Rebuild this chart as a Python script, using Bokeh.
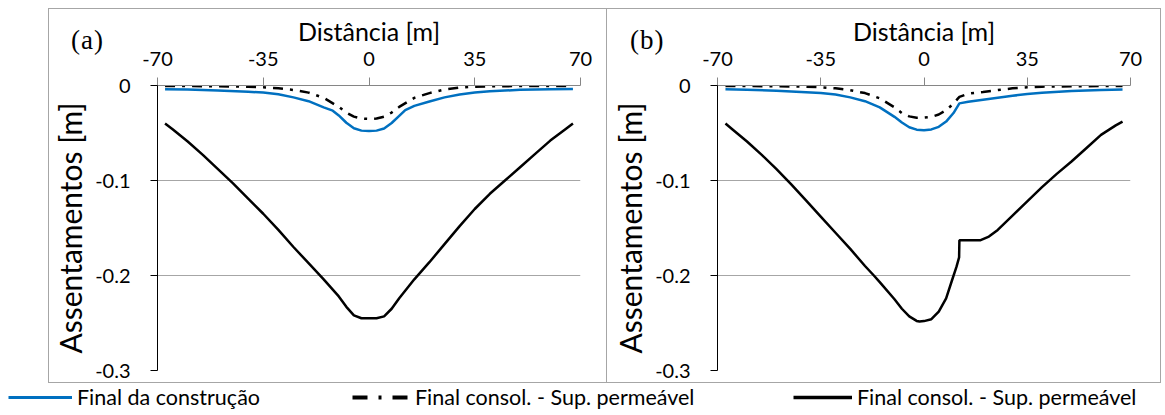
from bokeh.plotting import figure
from bokeh.layouts import row, column
from bokeh.models import (Range1d, FixedTicker, CustomJSTickFormatter, Div, GridBox,
                          Legend, LegendItem, Spacer)
from bokeh.embed import file_html
from bokeh.resources import INLINE

# ---- data: settlements along the cross-section ----
x_ticks = [-70, -35, 0, 35, 70]
y_ticks = [0, -0.1, -0.2, -0.3]

# (a) end of construction
xa_constr = [-67.5, -60, -50, -40, -35, -30, -25, -20, -15, -12, -10, -7.5, -5, -2.5, 0,
             2.5, 5, 7.5, 10, 12, 15, 20, 25, 30, 35, 40, 50, 60, 67.5]
ya_constr = [-0.0039, -0.0043, -0.0052, -0.0066, -0.0074, -0.0092, -0.0125, -0.0165, -0.0230,
             -0.0265, -0.0315, -0.0392, -0.0450, -0.0475, -0.0478, -0.0475, -0.0452, -0.0395,
             -0.0320, -0.0260, -0.0215, -0.0168, -0.0125, -0.0095, -0.0073, -0.0060, -0.0046,
             -0.0040, -0.0036]
# (a) end of consolidation, dash-dot series
xa_cons1 = [-67.5, -60, -50, -40, -35, -30, -25, -20, -15, -10, -7.5, -5, -2.5, 0,
            2.5, 5, 7.5, 10, 15, 20, 25, 30, 35, 40, 50, 60, 67.5]
ya_cons1 = [-0.0005, -0.0006, -0.0008, -0.0013, -0.0018, -0.0030, -0.0047, -0.0075, -0.0130,
            -0.0225, -0.0285, -0.0328, -0.0348, -0.0352, -0.0348, -0.0328, -0.0285, -0.0225,
            -0.0130, -0.0080, -0.0042, -0.0022, -0.0012, -0.0008, -0.0006, -0.0005, -0.0005]
# (a) end of consolidation, solid series
xa_cons2 = [-67.5, -65, -60, -55, -50, -45, -40, -35, -30, -25, -20, -15, -10, -7.5, -5,
            -2.5, 0, 2.5, 5, 7.5, 10, 15, 20, 25, 30, 35, 40, 45, 50, 55, 60, 65, 67.5]
ya_cons2 = [-0.040, -0.046, -0.059, -0.073, -0.088, -0.103, -0.119, -0.135, -0.152, -0.170,
            -0.187, -0.204, -0.222, -0.233, -0.242, -0.245, -0.245, -0.245, -0.243, -0.235,
            -0.224, -0.204, -0.186, -0.167, -0.148, -0.130, -0.114, -0.100, -0.086, -0.072,
            -0.058, -0.046, -0.040]

# (b) end of construction
xb_constr = [-67.3, -60, -50, -40, -35, -30, -25, -20, -15, -10, -7.5, -5, -2.5, 0,
             2.5, 5, 7.5, 10, 12, 15, 20, 25, 30, 35, 40, 50, 60, 67.3]
yb_constr = [-0.0039, -0.0045, -0.0055, -0.0070, -0.0080, -0.0095, -0.0125, -0.0165, -0.0230,
             -0.0330, -0.0390, -0.0440, -0.0465, -0.0470, -0.0462, -0.0435, -0.0380, -0.0290,
             -0.0188, -0.0172, -0.0150, -0.0128, -0.0108, -0.0090, -0.0076, -0.0058, -0.0047,
             -0.0042]
# (b) end of consolidation, dash-dot series
xb_cons1 = [-67.3, -60, -50, -40, -35, -30, -25, -20, -15, -10, -7.5, -5, -2.5, 0,
            2.5, 5, 7.5, 10, 12, 15, 20, 25, 30, 35, 40, 50, 60, 67.3]
yb_cons1 = [-0.0005, -0.0006, -0.0008, -0.0012, -0.0018, -0.0030, -0.0050, -0.0080, -0.0135,
            -0.0230, -0.0290, -0.0325, -0.0340, -0.0338, -0.0330, -0.0305, -0.0260, -0.0190,
            -0.0120, -0.0085, -0.0068, -0.0048, -0.0030, -0.0018, -0.0012, -0.0008, -0.0006,
            -0.0005]
# (b) end of consolidation, solid series
xb_cons2 = [-67.3, -65, -60, -55, -50, -45, -40, -35, -30, -25, -20, -17, -15, -10, -7.5,
            -5, -2.5, -1.5, 0, 2.5, 5, 7.5, 9.5, 11, 11.9, 12, 15, 19, 22, 25, 30, 35, 40,
            45, 50, 55, 60, 65, 67.3]
yb_cons2 = [-0.040, -0.046, -0.059, -0.073, -0.088, -0.104, -0.121, -0.138, -0.155, -0.172,
            -0.190, -0.200, -0.207, -0.225, -0.235, -0.243, -0.2478, -0.2485, -0.248, -0.246,
            -0.238, -0.224, -0.205, -0.191, -0.181, -0.163, -0.163, -0.163, -0.159, -0.152,
            -0.137, -0.122, -0.107, -0.093, -0.080, -0.066, -0.052, -0.042, -0.038]

legend_labels = ["Final da construção",
                 "Final consol. - Sup. permeável",
                 "Final consol. - Sup. permeável"]

FONT = "Lato"
BLUE = "#0070C0"
GRID = "#a6a6a6"
BORDER = "1px solid #a6a6a6"
DASHDOT = "10 7 3 7"


def panel(constr, cons1, cons2, width, left, right, borders):
    p = figure(width=width, height=375, x_range=Range1d(-70, 70), y_range=Range1d(-0.3, 0),
               x_axis_location="above", output_backend="svg", toolbar_location=None,
               min_border_left=left, min_border_right=right, min_border_top=76,
               min_border_bottom=14, styles=borders)
    p.outline_line_color = None

    xa = p.xaxis[0]
    xa.ticker = FixedTicker(ticks=x_ticks)
    xa.formatter = CustomJSTickFormatter(code="return tick.toFixed(0);")
    xa.axis_label = "Distância [m]"
    xa.axis_line_color = "#868686"
    xa.major_tick_line_color = "#868686"
    xa.major_tick_out = 8
    xa.major_tick_in = 0
    xa.minor_tick_line_color = None
    xa.major_label_standoff = 12
    xa.axis_label_standoff = 3
    xa.major_label_text_font = FONT
    xa.major_label_text_font_size = "20px"
    xa.axis_label_text_font = FONT
    xa.axis_label_text_font_size = "25px"
    xa.axis_label_text_font_style = "normal"
    xa.major_label_text_color = "black"
    xa.axis_label_text_color = "black"

    ya = p.yaxis[0]
    ya.ticker = FixedTicker(ticks=y_ticks)
    ya.formatter = CustomJSTickFormatter(
        code="return Math.abs(tick) < 1e-9 ? '0' : tick.toFixed(1);")
    ya.axis_label = "Assentamentos [m]"
    ya.axis_line_color = "black"
    ya.major_tick_line_color = "black"
    ya.major_tick_out = 7
    ya.major_tick_in = 0
    ya.minor_tick_line_color = None
    ya.major_label_standoff = 20
    ya.axis_label_standoff = 4
    ya.major_label_text_font = FONT
    ya.major_label_text_font_size = "20px"
    ya.axis_label_text_font = FONT
    ya.axis_label_text_font_size = "30px"
    ya.axis_label_text_font_style = "normal"
    ya.major_label_text_color = "black"
    ya.axis_label_text_color = "black"

    p.xgrid.grid_line_color = None
    p.ygrid.ticker = FixedTicker(ticks=y_ticks)
    p.ygrid.grid_line_color = GRID
    p.ygrid.grid_line_width = 1

    p.line(cons2[0], cons2[1], line_color="black", line_width=2.5)
    p.line(cons1[0], cons1[1], line_color="black", line_width=2.5, line_dash=DASHDOT)
    p.line(constr[0], constr[1], line_color=BLUE, line_width=2.5)
    return p


def tagged(p, tag, dx):
    # panel tag laid over the upper-left corner of the panel
    html = ('<div style="font-family:\'Liberation Serif\',serif;font-size:27px;'
            'line-height:27px;letter-spacing:1px;color:black;white-space:nowrap">'
            f'{tag}</div>')
    tag_div = Div(text=html, width=44, height=30, margin=(19, 0, 0, dx), align="start")
    return GridBox(children=[(p, 0, 0), (tag_div, 0, 0)])


pa = panel((xa_constr, ya_constr), (xa_cons1, ya_cons1), (xa_cons2, ya_cons2),
           559, 103, 28,
           {"border-top": BORDER, "border-left": BORDER, "border-bottom": BORDER,
            "border-right": BORDER})
pb = panel((xb_constr, yb_constr), (xb_cons1, yb_cons1), (xb_cons2, yb_cons2),
           554, 110, 31,
           {"border-top": BORDER, "border-bottom": BORDER, "border-right": BORDER})

# legend strip below the panels
leg = figure(width=1165, height=30, x_range=Range1d(0, 1), y_range=Range1d(0, 1),
             output_backend="svg", toolbar_location=None, x_axis_type=None, y_axis_type=None,
             min_border=0)
leg.outline_line_color = None
leg.xgrid.grid_line_color = None
leg.ygrid.grid_line_color = None
off_x, off_y = [5, 6], [5, 6]  # kept outside the visible range, only the key is shown
r1 = leg.line(off_x, off_y, line_color=BLUE, line_width=3)
r2 = leg.line(off_x, off_y, line_color="black", line_width=4, line_dash="15 11 3 11")
r3 = leg.line(off_x, off_y, line_color="black", line_width=3.5)
for lab, rend, x0, gw in zip(legend_labels, [r1, r2, r3], [8, 352, 793], [64, 58, 59]):
    lg = Legend(items=[LegendItem(label=lab, renderers=[rend])], location=(x0, 3),
                glyph_width=gw, glyph_height=22, label_standoff=5, padding=0, margin=0,
                spacing=0, border_line_color=None, background_fill_alpha=0,
                label_text_font=FONT, label_text_font_size="21.5px", label_text_color="black")
    leg.add_layout(lg)

p = column(Spacer(height=8),
           row(Spacer(width=48), tagged(pa, "(a)", 23), tagged(pb, "(b)", 23)),
           leg)

open("out.html", "w").write(file_html(p, INLINE))
